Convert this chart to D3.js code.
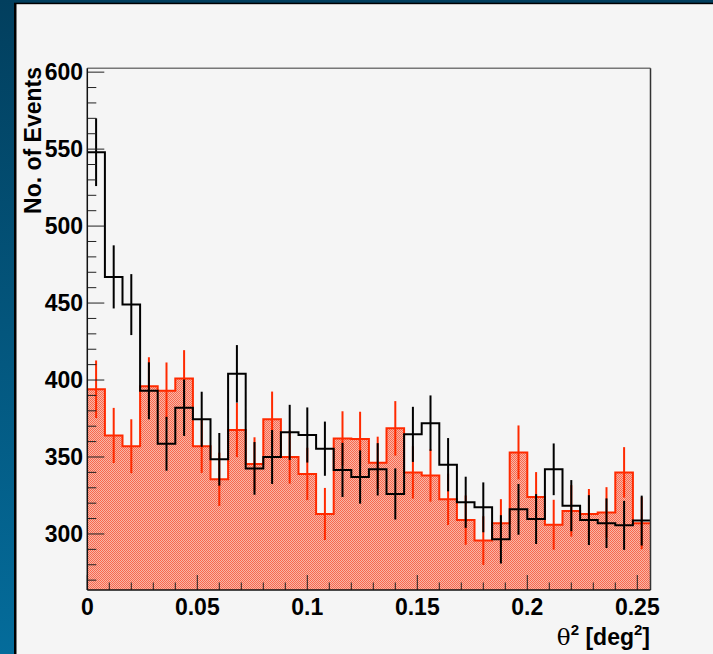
<!DOCTYPE html>
<html>
<head>
<meta charset="utf-8">
<script src="https://cdn.jsdelivr.net/npm/d3@7"></script>
<style>
  body { margin: 0; padding: 0; background: #004466; }
  svg { display: block; }
</style>
</head>
<body>
<svg id="chart"></svg>
<script>
// bin lower edges (deg^2), last edge closes the histogram
let binLow = [0, 0.008, 0.016, 0.024, 0.032, 0.04, 0.048, 0.056, 0.064, 0.072,
              0.08, 0.088, 0.096, 0.104, 0.112, 0.12, 0.128, 0.136, 0.144, 0.152,
              0.16, 0.168, 0.176, 0.184, 0.192, 0.2, 0.208, 0.216, 0.224, 0.232,
              0.24, 0.248]
let binEnd = 0.256

// background (red, filled) and on-source (black) counts with errors
let bgCounts = [394, 364, 357, 396, 393, 401, 357, 335.5, 367.5, 345.5,
                374.5, 350, 339, 313, 362, 361.7, 346.3, 368.6, 340, 338,
                322.5, 309, 295.7, 307, 353, 324, 306, 315, 313, 314,
                340, 307]
let bgErrors = [18.7, 17.9, 17.5, 18.8, 18.4, 18.4, 17.3, 17.3, 17.6, 17.3,
                18, 17.3, 17, 16.9, 17.7, 17.7, 16.9, 17.7, 17, 17,
                16.7, 16, 15.8, 15.6, 17.5, 16.2, 16.2, 16.7, 16.2, 16.4,
                16.4, 16.9]
let onCounts = [548, 467, 449, 393, 358.6, 382, 374.5, 348.5, 404, 342.6,
                350, 366, 364.3, 355.4, 341.6, 337, 342, 326, 364.7, 372,
                345, 320.6, 317.3, 296.5, 316, 309.7, 342, 318.4, 309, 307,
                305.6, 308.7]
let onErrors = [22, 20.5, 19.8, 18.5, 17.5, 18.3, 17.9, 17.1, 18.7, 17.1,
                17.5, 17.9, 17.9, 17.6, 17.6, 17.3, 17, 16.6, 17.9, 18,
                17.3, 16.6, 16.2, 15.7, 16.5, 16.2, 16.8, 16.6, 16.2, 16.1,
                15.9, 16.2]

let xMajor = [0, 0.05, 0.1, 0.15, 0.2, 0.25]
let xMajorLabels = ['0', '0.05', '0.1', '0.15', '0.2', '0.25']
let xMinor = [0.01, 0.02, 0.03, 0.04, 0.06, 0.07, 0.08, 0.09, 0.11, 0.12, 0.13, 0.14,
              0.16, 0.17, 0.18, 0.19, 0.21, 0.22, 0.23, 0.24]
let yMajor = [300, 350, 400, 450, 500, 550, 600]
let yMinor = [270, 280, 290, 310, 320, 330, 340, 360, 370, 380, 390, 410, 420, 430, 440,
              460, 470, 480, 490, 510, 520, 530, 540, 560, 570, 580, 590]

let width = 713
let height = 654
let padLeft = 87.3, padRight = 650.5, padTop = 68.3, padBottom = 590
let font = '"Liberation Sans", Arial, Helvetica, sans-serif'
let redLine = '#ff2a00'

let svg = d3.select('#chart').attr('width', width).attr('height', height)

let xScale = d3.scaleLinear().domain([0, binEnd]).range([padLeft, padRight])
let yScale = d3.scaleLinear().domain([263.6, 602.5]).range([padBottom, padTop])

let drawCanvas = () => {
    let defs = svg.append('defs')
    let grad = defs.append('linearGradient').attr('id', 'bluegrad')
        .attr('x1', 0).attr('y1', 0).attr('x2', 0).attr('y2', 1)
    grad.append('stop').attr('offset', '0%').attr('stop-color', '#023f5e')
    grad.append('stop').attr('offset', '100%').attr('stop-color', '#046c9b')

    // stippled fill, like the root hatch style
    let pat = defs.append('pattern').attr('id', 'dots')
        .attr('patternUnits', 'userSpaceOnUse').attr('width', 2).attr('height', 2)
    pat.append('rect').attr('width', 2).attr('height', 2).attr('fill', '#f8b6a7')
    pat.append('rect').attr('x', 0).attr('y', 0).attr('width', 1).attr('height', 1).attr('fill', '#f8684e')
    pat.append('rect').attr('x', 1).attr('y', 1).attr('width', 1).attr('height', 1).attr('fill', '#f8684e')

    svg.append('rect').attr('width', width).attr('height', height).attr('fill', 'url(#bluegrad)')
    svg.append('rect').attr('x', 14).attr('y', 2.7).attr('width', width).attr('height', height)
        .attr('fill', '#000')
    svg.append('rect').attr('x', 16.5).attr('y', 4.2).attr('width', width).attr('height', height)
        .attr('fill', '#f5f5f5')
}

let drawHist = (counts, errors, opts) => {
    let pts = binLow.map((lo, i) => ({ x: lo, v: counts[i] }))
    pts.push({ x: binEnd, v: counts[counts.length - 1] })
    let half = (binLow[1] - binLow[0]) / 2

    if (opts.fill) {
        let area = d3.area().curve(d3.curveStepAfter)
            .x(d => xScale(d.x)).y0(padBottom).y1(d => yScale(d.v))
        svg.append('path').datum(pts).attr('d', area).attr('fill', opts.fill)
    }
    let line = d3.line().curve(d3.curveStepAfter)
        .x(d => xScale(d.x)).y(d => yScale(d.v))
    svg.append('path').datum(pts).attr('d', line)
        .attr('fill', 'none').attr('stroke', opts.stroke).attr('stroke-width', 2)

    svg.append('g').selectAll('line')
        .data(binLow)
        .enter()
        .append('line')
        .attr('x1', d => xScale(d + half))
        .attr('x2', d => xScale(d + half))
        .attr('y1', (d, i) => yScale(counts[i] - errors[i]))
        .attr('y2', (d, i) => yScale(counts[i] + errors[i]))
        .attr('stroke', opts.stroke)
        .attr('stroke-width', 2)
}

let drawAxes = () => {
    let g = svg.append('g')
    // y ticks
    g.selectAll('.ymaj').data(yMajor).enter().append('line')
        .attr('x1', padLeft).attr('x2', padLeft + 17)
        .attr('y1', d => yScale(d)).attr('y2', d => yScale(d))
        .attr('stroke', '#222').attr('stroke-width', 1)
    g.selectAll('.ymin').data(yMinor).enter().append('line')
        .attr('x1', padLeft).attr('x2', padLeft + 9)
        .attr('y1', d => yScale(d)).attr('y2', d => yScale(d))
        .attr('stroke', '#222').attr('stroke-width', 1)
    // x ticks
    g.selectAll('.xmaj').data(xMajor).enter().append('line')
        .attr('x1', d => xScale(d)).attr('x2', d => xScale(d))
        .attr('y1', padBottom).attr('y2', padBottom - 15)
        .attr('stroke', '#222').attr('stroke-width', 1)
    g.selectAll('.xmin').data(xMinor).enter().append('line')
        .attr('x1', d => xScale(d)).attr('x2', d => xScale(d))
        .attr('y1', padBottom).attr('y2', padBottom - 7.5)
        .attr('stroke', '#222').attr('stroke-width', 1)

    // frame
    svg.append('line').attr('x1', padLeft).attr('x2', padRight).attr('y1', padTop).attr('y2', padTop)
        .attr('stroke', '#777').attr('stroke-width', 1.5)
    svg.append('line').attr('x1', padRight).attr('x2', padRight).attr('y1', padTop).attr('y2', padBottom)
        .attr('stroke', '#333').attr('stroke-width', 1.5)
    svg.append('line').attr('x1', padLeft).attr('x2', padLeft).attr('y1', padTop).attr('y2', padBottom)
        .attr('stroke', '#111').attr('stroke-width', 1.5)
    svg.append('line').attr('x1', padLeft).attr('x2', padRight).attr('y1', padBottom).attr('y2', padBottom)
        .attr('stroke', '#111').attr('stroke-width', 1.5)

    // labels
    svg.append('g').selectAll('text').data(yMajor).enter().append('text')
        .attr('x', 83).attr('y', d => yScale(d)).attr('dy', '0.36em')
        .attr('text-anchor', 'end')
        .style('font-family', font).style('font-weight', 'bold').style('font-size', '23px')
        .text(d => d)
    svg.append('g').selectAll('text').data(xMajor).enter().append('text')
        .attr('x', d => xScale(d)).attr('y', 615)
        .attr('text-anchor', 'middle')
        .style('font-family', font).style('font-weight', 'bold').style('font-size', '23px')
        .text((d, i) => xMajorLabels[i])

    svg.append('text')
        .attr('transform', 'translate(41,67) rotate(-90)')
        .attr('text-anchor', 'end')
        .style('font-family', font).style('font-weight', 'bold').style('font-size', '23px')
        .text('No. of Events')

    let xt = svg.append('text')
        .attr('x', 650).attr('y', 645)
        .attr('text-anchor', 'end')
        .style('font-family', font).style('font-weight', 'bold').style('font-size', '23px')
    xt.append('tspan').style('font-family', '"DejaVu Serif", serif').style('font-weight', 'normal').text('θ')
    xt.append('tspan').attr('dy', -10).style('font-size', '15px').text('2')
    xt.append('tspan').attr('dy', 10).text(' [deg')
    xt.append('tspan').attr('dy', -10).style('font-size', '15px').text('2')
    xt.append('tspan').attr('dy', 10).text(']')
}

drawCanvas()
drawHist(bgCounts, bgErrors, { fill: 'url(#dots)', stroke: redLine })
drawHist(onCounts, onErrors, { stroke: '#000' })
drawAxes()
</script>
</body>
</html>
